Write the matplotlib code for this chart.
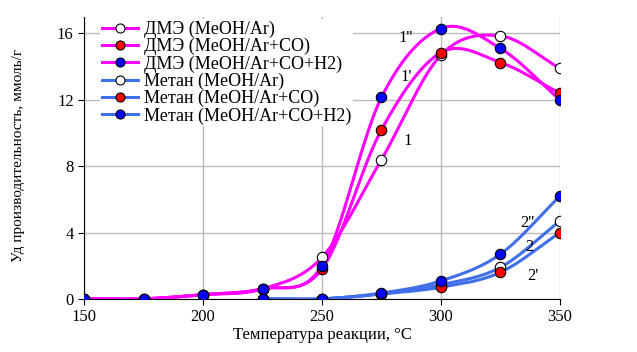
import numpy as np
import matplotlib
matplotlib.use("Agg")
import matplotlib.pyplot as plt

plt.rcParams['font.family'] = ['Liberation Serif', 'DejaVu Serif']

temp = [150, 175, 200, 225, 250, 275, 300, 325, 350]
dme_ar = [0, 0, 0.25, 0.6, 2.5, 8.4, 14.7, 15.85, 13.9]
dme_co = [0, 0, 0.25, 0.6, 1.8, 10.2, 14.85, 14.25, 12.4]
dme_co_h2 = [0, 0, 0.25, 0.6, 2.0, 12.15, 16.3, 15.1, 12.0]

temp_ch4 = [225, 250, 275, 300, 325, 350]
ch4_ar = [0, 0, 0.3, 0.85, 1.9, 4.7]
ch4_co = [0, 0, 0.3, 0.7, 1.6, 4.0]
ch4_co_h2 = [0, 0, 0.35, 1.08, 2.7, 6.2]

labels = ["ДМЭ (MeOH/Ar)", "ДМЭ (MeOH/Ar+CO)", "ДМЭ (MeOH/Ar+CO+H2)",
          "Метан (MeOH/Ar)", "Метан (MeOH/Ar+CO)", "Метан (MeOH/Ar+CO+H2)"]


def smooth(x, y, n=30):
    # catmull-rom through the points, like the spreadsheet smoothing
    x = np.asarray(x, float)
    y = np.asarray(y, float)
    px = np.concatenate([[2 * x[0] - x[1]], x, [2 * x[-1] - x[-2]]])
    py = np.concatenate([[2 * y[0] - y[1]], y, [2 * y[-1] - y[-2]]])
    xs, ys = [], []
    t = np.linspace(0, 1, n)
    for i in range(1, len(px) - 2):
        for arr, out in ((px, xs), (py, ys)):
            p0, p1, p2, p3 = arr[i - 1], arr[i], arr[i + 1], arr[i + 2]
            out.extend(0.5 * ((2 * p1) + (-p0 + p2) * t +
                              (2 * p0 - 5 * p1 + 4 * p2 - p3) * t ** 2 +
                              (-p0 + 3 * p1 - 3 * p2 + p3) * t ** 3))
    return xs, ys


fig = plt.figure(figsize=(6.37, 3.52), dpi=100)
ax = fig.add_axes([0.132, 0.151, 0.747, 0.801])

magenta = "#FF00FF"
blue_line = "#3F6FEA"
face = ["white", "#FF0000", "#0000FF"]

series = [(temp, dme_ar, magenta, face[0]), (temp, dme_co, magenta, face[1]),
          (temp, dme_co_h2, magenta, face[2]), (temp_ch4, ch4_ar, blue_line, face[0]),
          (temp_ch4, ch4_co, blue_line, face[1]), (temp_ch4, ch4_co_h2, blue_line, face[2])]

handles = []
for (x, y, lc, fc), lab in zip(series, labels):
    sx, sy = smooth(x, y)
    ax.plot(sx, sy, color=lc, lw=2.2, zorder=3)
    ax.plot(x, y, 'o', ms=7.5, mfc=fc, mec='black', mew=0.8, zorder=4)
    h, = ax.plot([], [], color=lc, lw=2.2, marker='o', ms=6.5, mfc=fc, mec='black',
                 mew=0.8, label=lab)
    handles.append(h)

ax.text(285, 15.7, "1''", fontsize=12, ha='center', va='center')
ax.text(285.5, 13.35, "1'", fontsize=12, ha='center', va='center')
ax.text(286, 9.5, "1", fontsize=12, ha='center', va='center')
ax.text(336.5, 4.6, "2''", fontsize=12, ha='center', va='center')
ax.text(337, 3.1, "2", fontsize=12, ha='center', va='center')
ax.text(338.5, 1.4, "2'", fontsize=12, ha='center', va='center')

ax.set_xlim(150, 350)
ax.set_ylim(0, 17)
ax.set_xticks([150, 200, 250, 300, 350])
ax.set_yticks([0, 4, 8, 12, 16])
ax.grid(True, color="#BBBBBB", lw=1)
ax.set_axisbelow(True)
for s in ['top', 'right']:
    ax.spines[s].set_visible(False)
ax.tick_params(direction='out', labelsize=12, length=4)
ax.set_xlabel("Температура реакции, °C", fontsize=12, labelpad=1)
ax.set_ylabel("Уд производительность, ммоль/г", fontsize=11, labelpad=14)
ax.yaxis.set_label_coords(-0.125, 0.51)

leg = ax.legend(handles=handles, loc='upper left', bbox_to_anchor=(0.015, 1.025),
                frameon=True, fontsize=13, handlelength=2.0, labelspacing=0.0,
                borderpad=0.1, handletextpad=0.3)
leg.get_frame().set_edgecolor('none')
leg.get_frame().set_facecolor('white')
leg.get_frame().set_alpha(1)

fig.savefig("out.png", dpi=100)
